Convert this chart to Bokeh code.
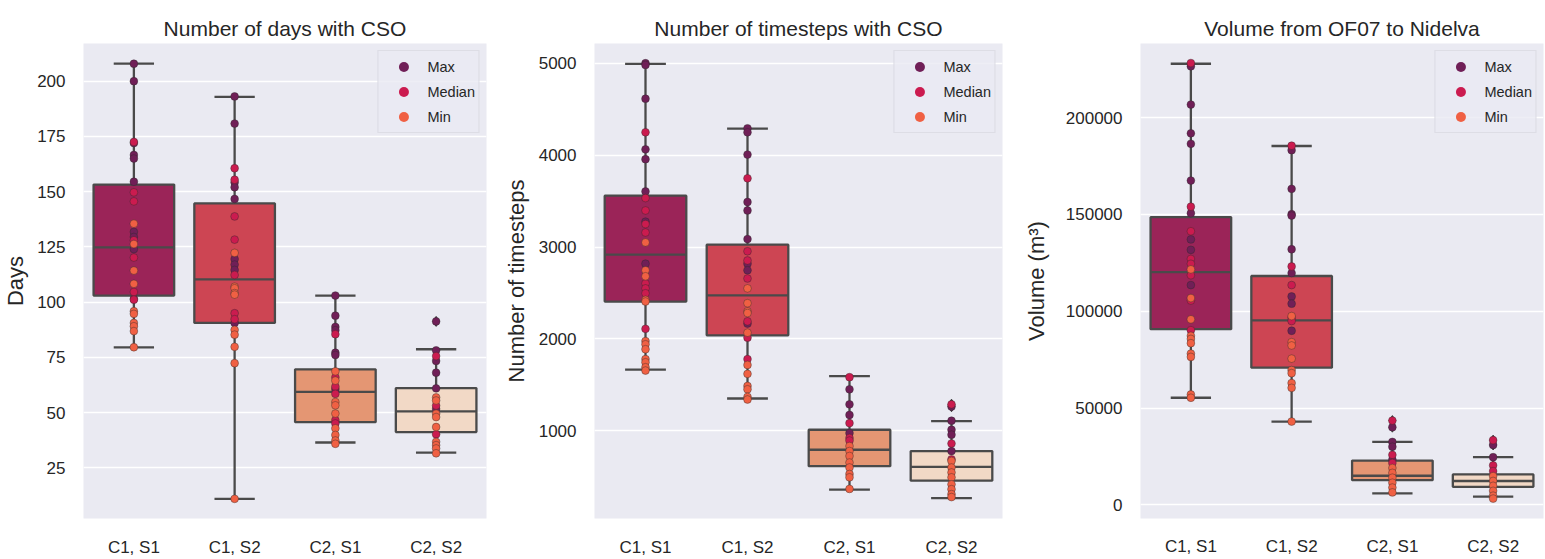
from bokeh.plotting import figure
from bokeh.layouts import row
from bokeh.models import (ColumnDataSource, FixedTicker, Legend, LegendItem,
                          Range1d, FactorRange, NumeralTickFormatter)
from bokeh.transform import dodge
from bokeh.embed import file_html
from bokeh.resources import INLINE

cats = ["C1, S1", "C1, S2", "C2, S1", "C2, S2"]
box_colors = ["#9b2458", "#cd4553", "#e49673", "#f2d9c6"]
point_colors = {"Max": "#701f57", "Median": "#cb1b4f", "Min": "#f06043"}

# ---------------- Panel 1: number of days ----------------
days_q1 = [103.0, 90.6, 45.7, 41.2]
days_med = [124.8, 110.3, 59.4, 50.6]
days_q3 = [153.2, 144.7, 69.6, 61.1]
days_lo = [79.5, 11.0, 36.5, 31.9]
days_hi = [207.9, 192.9, 103.0, 78.7]
days_out_cat = ["C2, S2"]
days_out_val = [91.3]
days_max = [[207.9, 200.0, 172.0, 166.6, 165.0, 154.5, 131.8, 129.5, 124.0, 101.5],
            [193.1, 180.8, 154.2, 152.0, 146.7, 119.5, 117.0, 114.6, 90.6],
            [103.0, 93.9, 88.8, 87.3, 77.1, 76.1, 60.7],
            [91.3, 78.2, 73.4, 68.1, 61.0, 51.7]]
days_median = [[172.5, 149.7, 145.6, 128.0, 120.2, 104.6, 101.1],
               [160.6, 155.4, 138.8, 128.3, 112.3, 95.0, 92.3],
               [85.5, 66.0, 61.8, 58.5, 46.6, 45.1],
               [75.6, 53.2, 40.2]]
days_min = [[135.5, 126.3, 114.3, 108.3, 95.9, 94.7, 90.6, 89.1, 86.9, 79.6],
            [122.3, 107.0, 106.3, 104.1, 103.4, 87.5, 85.3, 79.8, 72.4, 11.0],
            [68.7, 64.5, 54.8, 53.3, 49.6, 42.9, 39.9, 37.4, 35.9],
            [56.9, 55.5, 49.5, 48.0, 43.5, 36.8, 35.3, 33.8, 31.6]]
days_ticks = [25, 50, 75, 100, 125, 150, 175, 200]

# ---------------- Panel 2: number of timesteps ----------------
ts_q1 = [2407, 2039, 615, 458]
ts_med = [2918, 2475, 794, 608]
ts_q3 = [3559, 3026, 1012, 780]
ts_lo = [1666, 1352, 361, 268]
ts_hi = [4993, 4289, 1595, 1105]
ts_out_cat = ["C2, S2", "C2, S2"]
ts_out_val = [1290, 1262]
ts_max = [[5000, 4982, 4614, 4063, 3956, 3605, 3276, 2819],
          [4292, 4249, 4006, 3490, 3398, 3087, 2819, 2747, 2167],
          [1452, 1288, 1173, 976],
          [1264, 1110, 1012, 958, 780]]
ts_median = [[4249, 3533, 3398, 3250, 3158, 2604, 2550, 2497, 2110],
             [3748, 2954, 2854, 2658, 2192, 2014, 1781],
             [1584, 1084, 922, 894],
             [1288, 862, 690]]
ts_min = [[3050, 2747, 2682, 2425, 2407, 1977, 1942, 1888, 1781, 1746, 1692, 1656],
          [2550, 2389, 2300, 2282, 2068, 1717, 1620, 1488, 1452, 1370, 1341],
          [834, 780, 726, 655, 601, 530, 494, 368],
          [672, 601, 547, 494, 418, 365, 311, 279]]
ts_ticks = [1000, 2000, 3000, 4000, 5000]

# ---------------- Panel 3: volume ----------------
vol_q1 = [90730, 70840, 12700, 9260]
vol_med = [120230, 95280, 15000, 12300]
vol_q3 = [148560, 118200, 22850, 15690]
vol_lo = [55300, 43010, 5870, 4200]
vol_hi = [227850, 185350, 32460, 24590]
vol_out_cat = ["C2, S1", "C2, S1", "C2, S2", "C2, S2"]
vol_out_val = [43500, 40100, 33400, 30900]
vol_max = [[226500, 206750, 191900, 186500, 167500, 150600, 137100, 131700, 113500],
           [183200, 163200, 150100, 149400, 132000, 119700, 107600, 103900, 89900],
           [40100, 32500, 30000, 23300],
           [30900, 24600]]
vol_median = [[228200, 154000, 141300, 127000, 124500, 118600, 105500, 90200],
              [185500, 123100, 113500, 96600, 94900],
              [43500, 25800, 21600],
              [33400, 20400, 17400]]
vol_min = [[121600, 106800, 95800, 87300, 85700, 83500, 78100, 76400, 57000, 55300],
           [97500, 84000, 82300, 75500, 69600, 68000, 62900, 60400, 43000],
           [19000, 16500, 14000, 11400, 8900, 6400],
           [14800, 12300, 9800, 7200, 4700, 3200]]
vol_ticks = [0, 50000, 100000, 150000, 200000]

FONT = "Liberation Sans"
TXT = "#262626"
LINE = "#4a4a4a"
BG = "#eaeaf2"
NAN = float("nan")


def make_panel(title, ylabel, yr, ticks, q1, med, q3, lo, hi, out_cat, out_val,
               pmax, pmed, pmin, width, bl, br, bt, bb, ylab_standoff, xlab_standoff,
               numeral=False):
    p = figure(x_range=FactorRange(factors=cats, range_padding=0),
               y_range=Range1d(*yr), width=width, height=559,
               min_border_left=bl, min_border_right=br,
               min_border_top=bt, min_border_bottom=bb,
               output_backend="svg", toolbar_location=None, title=title)
    p.background_fill_color = BG
    p.border_fill_color = "white"
    p.outline_line_color = None

    p.title.text_font = FONT
    p.title.text_font_size = "21px"
    p.title.text_font_style = "normal"
    p.title.text_color = TXT
    p.title.align = "center"
    p.title.standoff = 8

    p.xgrid.visible = False
    p.ygrid.grid_line_color = "white"
    p.ygrid.grid_line_width = 1.3
    p.yaxis.ticker = FixedTicker(ticks=ticks)
    p.ygrid.ticker = FixedTicker(ticks=ticks)
    if numeral:
        p.yaxis.formatter = NumeralTickFormatter(format="0")

    for ax in (p.xaxis[0], p.yaxis[0]):
        ax.axis_line_color = None
        ax.major_tick_line_color = None
        ax.minor_tick_line_color = None
        ax.major_label_text_font = FONT
        ax.major_label_text_font_size = "17px"
        ax.major_label_text_color = TXT
    p.yaxis.major_label_standoff = 12
    p.xaxis.major_label_standoff = xlab_standoff
    p.yaxis.axis_label = ylabel
    p.yaxis.axis_label_text_font = FONT
    p.yaxis.axis_label_text_font_size = "22px"
    p.yaxis.axis_label_text_font_style = "normal"
    p.yaxis.axis_label_text_color = TXT
    p.yaxis.axis_label_standoff = ylab_standoff

    src = ColumnDataSource(dict(cat=cats, q1=q1, med=med, q3=q3, lo=lo, hi=hi,
                                fill=box_colors))
    lw = 2.3
    # whiskers
    p.segment(x0="cat", y0="q3", x1="cat", y1="hi", line_color=LINE, line_width=lw, source=src)
    p.segment(x0="cat", y0="lo", x1="cat", y1="q1", line_color=LINE, line_width=lw, source=src)
    # caps
    p.segment(x0=dodge("cat", -0.2, range=p.x_range), y0="hi",
              x1=dodge("cat", 0.2, range=p.x_range), y1="hi",
              line_color=LINE, line_width=lw, source=src)
    p.segment(x0=dodge("cat", -0.2, range=p.x_range), y0="lo",
              x1=dodge("cat", 0.2, range=p.x_range), y1="lo",
              line_color=LINE, line_width=lw, source=src)
    # boxes
    p.vbar(x="cat", width=0.8, bottom="q1", top="q3", fill_color="fill",
           line_color=LINE, line_width=lw, source=src)
    # medians
    p.segment(x0=dodge("cat", -0.4, range=p.x_range), y0="med",
              x1=dodge("cat", 0.4, range=p.x_range), y1="med",
              line_color=LINE, line_width=lw, source=src)
    # fliers
    p.scatter(x=out_cat, y=out_val, marker="diamond", size=10,
              fill_color="#3d3d3d", line_color="#3d3d3d")

    # strip points
    for name, lists in (("Max", pmax), ("Median", pmed), ("Min", pmin)):
        xs = [cats[i] for i, lst in enumerate(lists) for _ in lst]
        ys = [v for lst in lists for v in lst]
        p.scatter(x=xs, y=ys, marker="circle", size=7.8,
                  fill_color=point_colors[name], line_color="#2a2a2a",
                  line_width=0.5, line_alpha=0.8)

    # legend (helper renderers with a single undrawn NaN point)
    items = []
    for name in ("Max", "Median", "Min"):
        r = p.scatter(x=[cats[0]], y=[NAN], marker="circle", size=10,
                      fill_color=point_colors[name], line_color=None)
        items.append(LegendItem(label=name, renderers=[r]))
    leg = Legend(items=items, location="top_right")
    leg.margin = 7
    leg.padding = 3
    leg.spacing = 0
    leg.glyph_height = 25
    leg.glyph_width = 44
    leg.label_height = 25
    leg.label_standoff = 2
    leg.label_text_font = FONT
    leg.label_text_font_size = "14.5px"
    leg.label_text_color = TXT
    leg.background_fill_color = BG
    leg.background_fill_alpha = 0.8
    leg.border_line_color = "#cfcfd8"
    leg.border_line_width = 1
    p.add_layout(leg)
    return p


p1 = make_panel("Number of days with CSO", "Days", (2.1, 217.05), days_ticks,
                days_q1, days_med, days_q3, days_lo, days_hi, days_out_cat, days_out_val,
                days_max, days_median, days_min,
                width=500, bl=79, br=14, bt=40, bb=37, ylab_standoff=6, xlab_standoff=13)
p2 = make_panel("Number of timesteps with CSO", "Number of timesteps", (46, 5215), ts_ticks,
                ts_q1, ts_med, ts_q3, ts_lo, ts_hi, ts_out_cat, ts_out_val,
                ts_max, ts_median, ts_min,
                width=520, bl=94, br=18, bt=40, bb=37, ylab_standoff=7, xlab_standoff=13)
p3 = make_panel("Volume from OF07 to Nidelva", "Volume (m³)", (-7084, 238300), vol_ticks,
                vol_q1, vol_med, vol_q3, vol_lo, vol_hi, vol_out_cat, vol_out_val,
                vol_max, vol_median, vol_min,
                width=525, bl=118, br=2, bt=43, bb=31, ylab_standoff=14, xlab_standoff=12,
                numeral=True)

layout = row(p1, p2, p3)
open("out.html", "w").write(file_html(layout, INLINE))
